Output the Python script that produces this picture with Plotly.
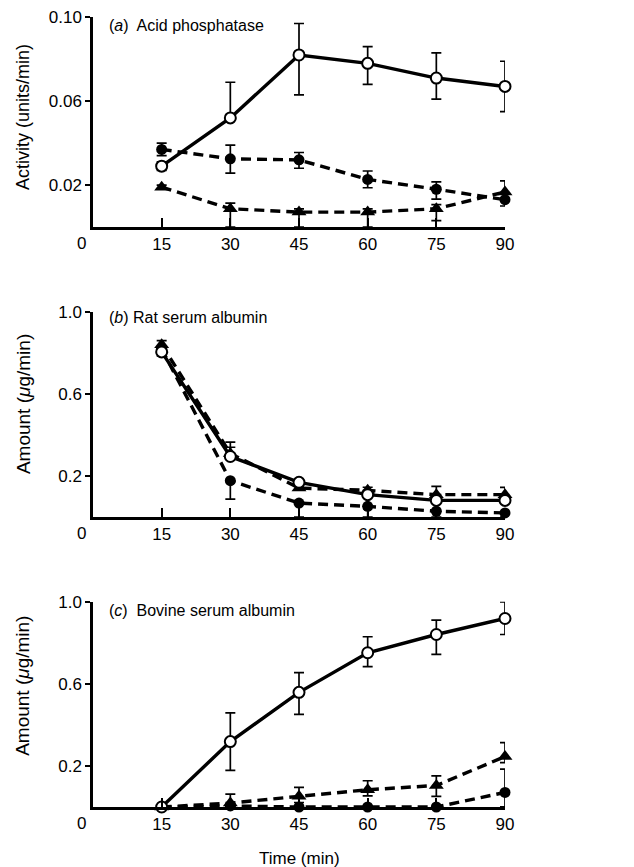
import plotly.graph_objects as go

time = [15, 30, 45, 60, 75, 90]

# Panel (a) Acid phosphatase (units/min)
a_open = [0.029, 0.052, 0.082, 0.078, 0.071, 0.067]
a_open_plus = [0.002, 0.017, 0.015, 0.008, 0.012, 0.012]
a_open_minus = [0.002, 0.0, 0.019, 0.010, 0.010, 0.012]
a_circ = [0.037, 0.0325, 0.032, 0.0227, 0.018, 0.013]
a_circ_plus = [0.003, 0.0065, 0.0035, 0.004, 0.0035, 0.003]
a_circ_minus = [0.003, 0.0068, 0.004, 0.004, 0.0047, 0.003]
a_tri = [0.019, 0.0087, 0.0071, 0.0071, 0.0087, 0.0167]
a_tri_plus = [0.001, 0.0027, 0.0015, 0.0015, 0.002, 0.0053]
a_tri_minus = [0.001, 0.0087, 0.0071, 0.0071, 0.0057, 0.003]

# Panel (b) Rat serum albumin (ug/min)
b_open = [0.805, 0.295, 0.169, 0.109, 0.081, 0.081]
b_open_plus = [0.02, 0.07, 0.015, 0.01, 0.01, 0.01]
b_open_minus = [0.02, 0.0, 0.015, 0.01, 0.01, 0.01]
b_tri = [0.84, 0.31, 0.141, 0.13, 0.109, 0.109]
b_tri_plus = [0.02, 0.03, 0.01, 0.015, 0.04, 0.035]
b_tri_minus = [0.02, 0.0, 0.01, 0.0, 0.0, 0.0]
b_circ = [0.82, 0.177, 0.068, 0.052, 0.028, 0.02]
b_circ_plus = [0.0, 0.0, 0.0, 0.0, 0.0, 0.0]
b_circ_minus = [0.02, 0.09, 0.068, 0.052, 0.028, 0.02]

# Panel (c) Bovine serum albumin (ug/min)
c_open = [0.0, 0.319, 0.559, 0.752, 0.841, 0.919]
c_open_plus = [0.0, 0.14, 0.096, 0.078, 0.07, 0.081]
c_open_minus = [0.0, 0.14, 0.107, 0.068, 0.097, 0.078]
c_tri = [0.0, 0.019, 0.052, 0.084, 0.105, 0.246]
c_tri_plus = [0.0, 0.044, 0.044, 0.044, 0.047, 0.068]
c_tri_minus = [0.0, 0.019, 0.03, 0.03, 0.053, 0.03]
c_circ = [0.0, 0.005, 0.0, 0.0, 0.0, 0.071]
c_circ_plus = [0.0, 0.0, 0.0, 0.0, 0.0, 0.114]
c_circ_minus = [0.0, 0.0, 0.0, 0.0, 0.0, 0.07]

panel_titles = ["(<i>a</i>)  Acid phosphatase", "(<i>b</i>) Rat serum albumin",
                "(<i>c</i>)  Bovine serum albumin"]
y_titles = ["Activity (units/min)", "Amount (<i>μ</i>g/min)", "Amount (<i>μ</i>g/min)"]
y_ticks = [[0.02, 0.06, 0.10], [0.2, 0.6, 1.0], [0.2, 0.6, 1.0]]
y_ticktext = [["0.02", "0.06", "0.10"], ["0.2", "0.6", "1.0"], ["0.2", "0.6", "1.0"]]
y_ranges = [[0, 0.1001], [0, 1.001], [0, 1.001]]
x_ticks = [15, 30, 45, 60, 75, 90]

# page body has an 8px margin: figure placed at (8, 8)
W, H = 626, 859
ML, MR = 85, 129
px_domains = [(9, 219), (303.7, 509), (593.7, 799)]
domains = [[1 - b / H, 1 - t / H] for t, b in px_domains]

FONT = "Liberation Sans, Arial, sans-serif"
fig = go.Figure()

def add(ax, y, plus, minus, kind):
    xa = "x" if ax == 1 else f"x{ax}"
    ya = "y" if ax == 1 else f"y{ax}"
    if kind == "open":
        marker = dict(symbol="circle", size=11, color="white", line=dict(color="black", width=2))
        line = dict(color="black", width=3.4)
    elif kind == "circ":
        marker = dict(symbol="circle", size=11, color="black")
        line = dict(color="black", width=3.4, dash="10px,6px")
    else:
        marker = dict(symbol="triangle-up", size=13, color="black")
        line = dict(color="black", width=3.4, dash="10px,6px")
    fig.add_trace(go.Scatter(
        x=time, y=y, mode="lines+markers", xaxis=xa, yaxis=ya,
        marker=marker, line=line, cliponaxis=False, showlegend=False,
        error_y=dict(type="data", symmetric=False, array=plus, arrayminus=minus,
                     color="black", thickness=1.7, width=5)))

add(1, a_tri, a_tri_plus, a_tri_minus, "tri")
add(1, a_circ, a_circ_plus, a_circ_minus, "circ")
add(1, a_open, a_open_plus, a_open_minus, "open")
add(2, b_circ, b_circ_plus, b_circ_minus, "circ")
add(2, b_tri, b_tri_plus, b_tri_minus, "tri")
add(2, b_open, b_open_plus, b_open_minus, "open")
add(3, c_circ, c_circ_plus, c_circ_minus, "circ")
add(3, c_tri, c_tri_plus, c_tri_minus, "tri")
add(3, c_open, c_open_plus, c_open_minus, "open")

layout = dict(
    width=W, height=H, paper_bgcolor="white", plot_bgcolor="white",
    margin=dict(l=ML, r=MR, t=0, b=0), font=dict(family=FONT, size=16, color="black"),
)
for i in range(3):
    sx = "xaxis" if i == 0 else f"xaxis{i+1}"
    sy = "yaxis" if i == 0 else f"yaxis{i+1}"
    xname = "x" if i == 0 else f"x{i+1}"
    yname = "y" if i == 0 else f"y{i+1}"
    layout[sx] = dict(
        domain=[0, 1], anchor=yname, range=[0, 90], tickvals=x_ticks, automargin=False,
        ticks="inside", ticklen=9, tickwidth=2, tickcolor="black",
        showline=True, linecolor="black", linewidth=3, showgrid=False, zeroline=False,
        tickfont=dict(size=17, family=FONT), ticklabelstandoff=0,
        ticklabeloverflow="allow",
    )
    layout[sy] = dict(
        domain=domains[i], anchor=xname, range=y_ranges[i], tickvals=y_ticks[i],
        ticktext=y_ticktext[i], ticks="outside", ticklen=5, tickwidth=2, tickcolor="black",
        showline=True, linecolor="black", linewidth=2.5, showgrid=False, zeroline=False,
        tickfont=dict(size=17, family=FONT), automargin=False, ticklabeloverflow="allow",
    )
fig.update_layout(**layout)

annotations = []
label_y = [0.0962, 0.974, 0.96]
title_y = [0.524, 0.55, 0.59]
title_size = [18, 19, 19]
title_x = (15 - ML) / (W - ML - MR)
for i in range(3):
    xname = "x" if i == 0 else f"x{i+1}"
    yname = "y" if i == 0 else f"y{i+1}"
    annotations.append(dict(text=panel_titles[i], x=3.1, y=label_y[i], xref=xname, yref=yname,
                            xanchor="left", yanchor="middle", showarrow=False,
                            font=dict(size=16, family=FONT)))
    annotations.append(dict(text="0", x=0, y=0, xref=xname, yref=yname, xanchor="center",
                            yanchor="top", xshift=-12, yshift=-5, showarrow=False,
                            font=dict(size=17, family=FONT)))
    annotations.append(dict(text=y_titles[i], x=title_x, y=title_y[i], xref="paper",
                            yref=f"{yname} domain", xanchor="center", yanchor="middle",
                            textangle=-90, showarrow=False,
                            font=dict(size=title_size[i], family=FONT)))
annotations.append(dict(text="Time (min)", x=0.5, y=1 - 850 / H, xref="paper", yref="paper",
                        xanchor="center", yanchor="middle", showarrow=False,
                        font=dict(size=17, family=FONT)))
fig.update_layout(annotations=annotations)

fig.write_html("out.html")
